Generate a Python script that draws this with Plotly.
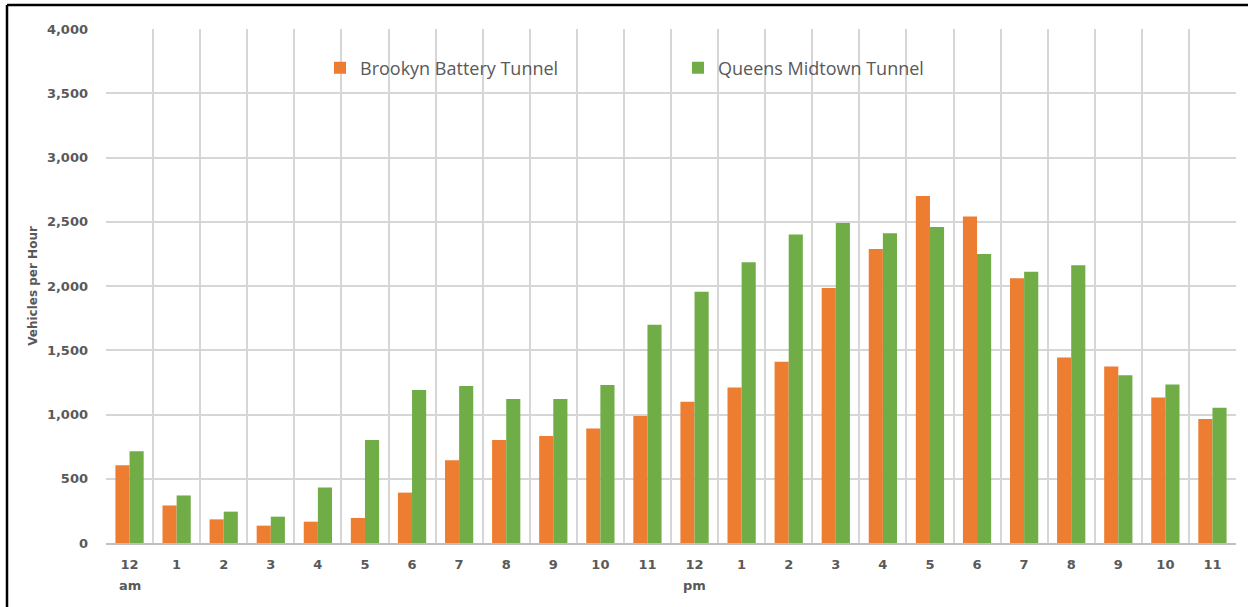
import plotly.graph_objects as go

hours = list(range(24))
hour_labels = ["12", "1", "2", "3", "4", "5", "6", "7", "8", "9", "10", "11",
               "12", "1", "2", "3", "4", "5", "6", "7", "8", "9", "10", "11"]
period_positions = [0, 12]
period_labels = ["am", "pm"]
brooklyn = [605, 292, 184, 135, 166, 195, 392, 643, 802, 832, 892, 989,
            1100, 1210, 1411, 1984, 2287, 2700, 2540, 2060, 1443, 1373, 1133, 965]
queens = [714, 370, 244, 205, 432, 802, 1191, 1222, 1121, 1121, 1229, 1699,
          1956, 2184, 2401, 2490, 2411, 2460, 2250, 2110, 2162, 1305, 1234, 1053]
y_ticks = [0, 500, 1000, 1500, 2000, 2500, 3000, 3500, 4000]

ORANGE = "#ED7D31"
GREEN = "#70AD47"
GREY = "#595959"
GRID = "#d6d6d6"

fig = go.Figure()
fig.add_trace(go.Bar(x=hours, y=brooklyn, name="Brookyn Battery Tunnel",
                     marker=dict(color=ORANGE, line=dict(width=0))))
fig.add_trace(go.Bar(x=hours, y=queens, name="Queens Midtown Tunnel",
                     marker=dict(color=GREEN, line=dict(width=0))))

W, H = 1248, 607
L, R, T, B = 106, 12, 29, 64
pw, ph = W - L - R, H - T - B

annotations = [
    dict(x=p, y=-(585 - (H - B)) / ph, xref="x", yref="paper", text=t, showarrow=False,
         xanchor="center", yanchor="middle",
         font=dict(family="DejaVu Sans", size=13, color=GREY, weight="bold"))
    for p, t in zip(period_positions, period_labels)
]

fig.update_layout(
    width=W, height=H,
    margin=dict(l=L, r=R, t=T, b=B),
    paper_bgcolor="white", plot_bgcolor="white",
    barmode="group", bargap=0.40, bargroupgap=0,
    showlegend=True,
    legend=dict(orientation="h", x=(320 - L) / pw, xanchor="left",
                y=(H - B - 68) / ph, yanchor="middle",
                bgcolor="rgba(0,0,0,0)",
                font=dict(family="Open Sans", size=18, color=GREY),
                entrywidth=313, entrywidthmode="pixels", itemwidth=30),
    xaxis=dict(
        range=[-0.5, 23.5], tickmode="array", tickvals=hours, ticktext=hour_labels,
        showgrid=False, zeroline=False, showline=True, linecolor="#bfbfbf", linewidth=1.5,
        ticks="", ticklabelstandoff=9,
        tickfont=dict(family="DejaVu Sans", size=13, color=GREY, weight="bold"),
        minor=dict(tickvals=[h - 0.5 for h in hours] + [23.5], showgrid=True,
                   gridcolor=GRID, gridwidth=1.5, ticks=""),
    ),
    yaxis=dict(
        range=[0, 4000], tickvals=y_ticks, tickformat=",d",
        showgrid=True, gridcolor=GRID, gridwidth=1.5, zeroline=False,
        showline=False, ticks="", ticklabelstandoff=17,
        tickfont=dict(family="DejaVu Sans", size=13, color=GREY, weight="bold"),
        title=dict(text="Vehicles per Hour", standoff=6,
                   font=dict(family="DejaVu Sans", size=12, color=GREY, weight="bold")),
    ),
    annotations=annotations,
    shapes=[
        dict(type="line", xref="paper", yref="paper",
             x0=(7 - L) / pw, x1=(W + 5 - L) / pw,
             y0=(H - B - 5) / ph, y1=(H - B - 5) / ph,
             line=dict(color="black", width=2.5)),
        dict(type="line", xref="paper", yref="paper",
             x0=(7 - L) / pw, x1=(7 - L) / pw,
             y0=(H - B - 5) / ph, y1=(H - B - H - 5) / ph,
             line=dict(color="black", width=2.5)),
    ],
)

fig.write_html("out.html", config={"displayModeBar": False},
               post_script="document.body.style.margin='0';document.body.style.overflow='hidden';")
